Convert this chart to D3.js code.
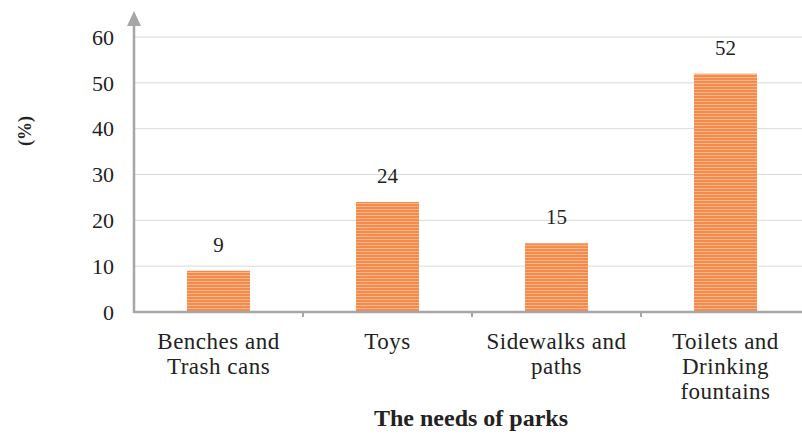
<!DOCTYPE html>
<html><head><meta charset="utf-8">
<script src="https://cdn.jsdelivr.net/npm/d3@7"></script>
<style>body{margin:0;background:#fff}svg{display:block}</style>
</head><body>
<script>
const categories = [["Benches and","Trash cans"],["Toys"],["Sidewalks and","paths"],["Toilets and","Drinking","fountains"]];
const values = [9, 24, 15, 52];
const yTicks = [0,10,20,30,40,50,60];
const xTitle = "The needs of parks";
const yTitle = "(%)";

const W = 802, H = 435;
const FONT = '"Liberation Serif","Times New Roman",serif';
const svg = d3.select("body").append("svg").attr("width", W).attr("height", H);
const defs = svg.append("defs");
const pat = defs.append("pattern").attr("id","stripe").attr("patternUnits","userSpaceOnUse")
  .attr("width",8).attr("height",3);
pat.append("rect").attr("width",8).attr("height",3).attr("fill","#F58A4B");
pat.append("rect").attr("y",2).attr("width",8).attr("height",1).attr("fill","#FAB98C");

const x0 = 134, xEnd = 810, y0 = 312, yTop = 37;
const x = d3.scaleBand().domain(d3.range(values.length)).range([x0, xEnd]).padding(0);
const y = d3.scaleLinear().domain([0,60]).range([y0, yTop]);

// gridlines
svg.append("g").selectAll("line").data(yTicks.filter(d=>d>0)).join("line")
  .attr("x1", x0).attr("x2", W).attr("y1", d=>y(d)).attr("y2", d=>y(d))
  .attr("stroke","#d9d9d9").attr("stroke-width",1);

// y tick labels
svg.append("g").selectAll("text").data(yTicks).join("text")
  .attr("x", 114).attr("y", d=>y(d)).attr("dy","0.35em").attr("text-anchor","end")
  .style("font-family",FONT).style("font-size","22px").attr("fill","#222").text(d=>d);

// bars
const bw = 63;
svg.append("g").selectAll("rect").data(values).join("rect")
  .attr("x",(d,i)=>x(i)+x.bandwidth()/2-bw/2).attr("width",bw)
  .attr("y",d=>y(d)).attr("height",d=>y0-y(d)).attr("fill","url(#stripe)");

// value labels
svg.append("g").selectAll("text").data(values).join("text")
  .attr("x",(d,i)=>x(i)+x.bandwidth()/2).attr("y",d=>y(d)-19)
  .attr("text-anchor","middle").style("font-family",FONT).style("font-size","21px").attr("fill","#222").text(d=>d);

// x axis line and ticks
svg.append("line").attr("x1",x0).attr("x2",W).attr("y1",y0).attr("y2",y0)
  .attr("stroke","#a6a6a6").attr("stroke-width",2.5);
svg.append("g").selectAll("line").data(d3.range(1,values.length)).join("line")
  .attr("x1",d=>x(d)).attr("x2",d=>x(d)).attr("y1",y0).attr("y2",y0+5)
  .attr("stroke","#a6a6a6").attr("stroke-width",2);

// y axis with arrow
svg.append("line").attr("x1",x0).attr("x2",x0).attr("y1",y0+1).attr("y2",20)
  .attr("stroke","#a6a6a6").attr("stroke-width",2.5);
svg.append("path").attr("d",`M${x0-7},${26} L${x0},${11} L${x0+7},${26} Z`).attr("fill","#a6a6a6");

// category labels
const cg = svg.append("g").selectAll("text").data(categories).join("text")
  .attr("text-anchor","middle").style("font-family",FONT).style("font-size","23px")
  .style("letter-spacing","0.5px").attr("fill","#222");
cg.each(function(lines,i){
  d3.select(this).selectAll("tspan").data(lines).join("tspan")
    .attr("x", x(i)+x.bandwidth()/2).attr("y",(d,j)=>349+j*25).text(d=>d);
});

// titles
svg.append("text").attr("x",471).attr("y",426).attr("text-anchor","middle")
  .style("font-family",FONT).style("font-size","24px").style("font-weight","bold").attr("fill","#222").text(xTitle);
svg.append("text").attr("transform","translate(31,131) rotate(-90)").attr("text-anchor","middle")
  .style("font-family",FONT).style("font-size","18px").style("font-weight","bold").attr("fill","#222").text(yTitle);
</script>
</body></html>
